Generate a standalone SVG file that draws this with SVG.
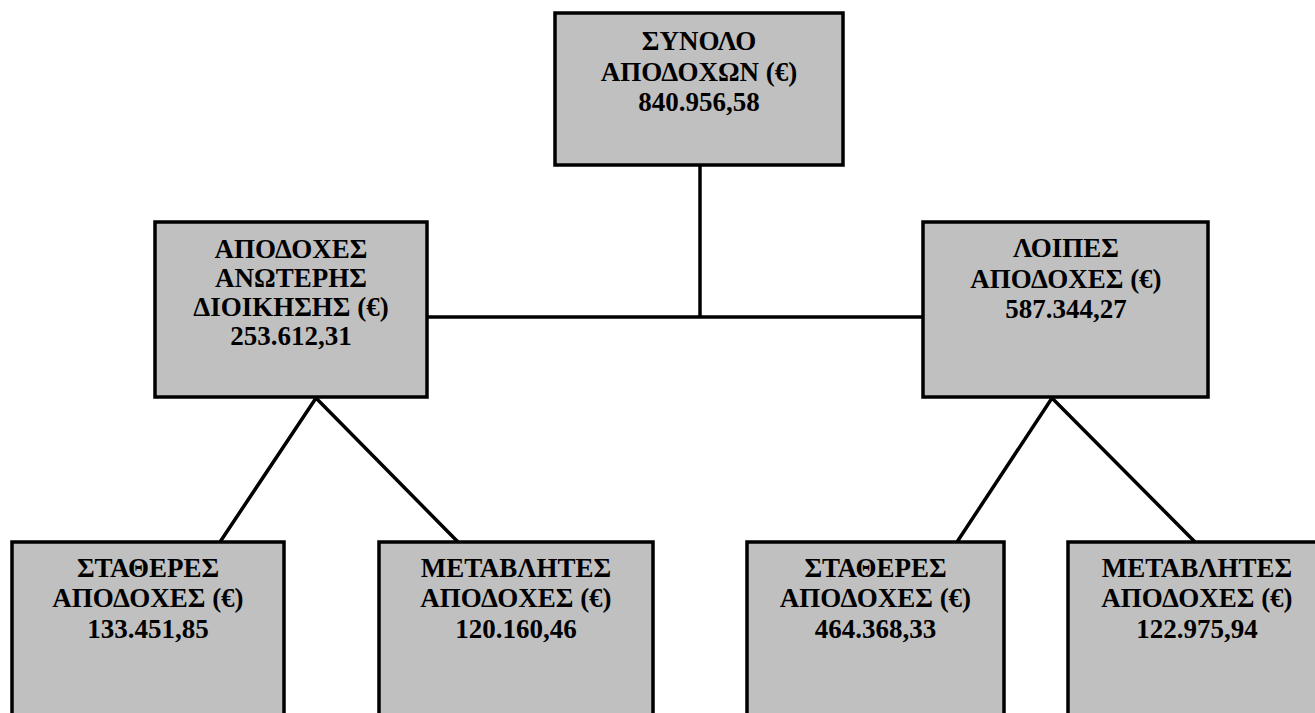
<svg xmlns="http://www.w3.org/2000/svg" width="1315" height="713" viewBox="0 0 1315 713">
<style>
.box{fill:#c0c0c0;stroke:#000;stroke-width:3.5}
.t{font-family:"Liberation Serif","Times New Roman",serif;font-weight:bold;font-size:27px;fill:#000;text-anchor:middle}
.c{stroke:#000;stroke-width:3.5;fill:none}
</style>
<rect width="1315" height="713" fill="#fff"/>
<g id="connectors">
<line class="c" x1="700" y1="165" x2="700" y2="317"/>
<line class="c" x1="427" y1="317" x2="923" y2="317"/>
<polyline class="c" points="220,542 316,398 458,542"/>
<polyline class="c" points="957,542 1052,398 1195,542"/>
</g>
<g id="n-total">
<rect class="box" x="555" y="13" width="288" height="152"/>
<text class="t" x="699" y="50">ΣΥΝΟΛΟ</text>
<text class="t" x="699" y="81">ΑΠΟΔΟΧΩΝ (€)</text>
<text class="t" x="699" y="111">840.956,58</text>
</g>
<g id="n-mgmt">
<rect class="box" x="155" y="222" width="272" height="175"/>
<text class="t" x="291" y="258">ΑΠΟΔΟΧΕΣ</text>
<text class="t" x="291" y="287">ΑΝΩΤΕΡΗΣ</text>
<text class="t" x="291" y="316">ΔΙΟΙΚΗΣΗΣ (€)</text>
<text class="t" x="291" y="345">253.612,31</text>
</g>
<g id="n-other">
<rect class="box" x="923" y="222" width="285" height="175"/>
<text class="t" x="1066" y="257">ΛΟΙΠΕΣ</text>
<text class="t" x="1066" y="288">ΑΠΟΔΟΧΕΣ (€)</text>
<text class="t" x="1066" y="318">587.344,27</text>
</g>
<g id="n-mgmt-fixed">
<rect class="box" x="12" y="542" width="272" height="190"/>
<text class="t" x="148" y="577">ΣΤΑΘΕΡΕΣ</text>
<text class="t" x="148" y="607">ΑΠΟΔΟΧΕΣ (€)</text>
<text class="t" x="148" y="638">133.451,85</text>
</g>
<g id="n-mgmt-var">
<rect class="box" x="379" y="542" width="274" height="190"/>
<text class="t" x="516" y="577">ΜΕΤΑΒΛΗΤΕΣ</text>
<text class="t" x="516" y="607">ΑΠΟΔΟΧΕΣ (€)</text>
<text class="t" x="516" y="638">120.160,46</text>
</g>
<g id="n-other-fixed">
<rect class="box" x="747" y="542" width="257" height="190"/>
<text class="t" x="875.5" y="577">ΣΤΑΘΕΡΕΣ</text>
<text class="t" x="875.5" y="607">ΑΠΟΔΟΧΕΣ (€)</text>
<text class="t" x="875.5" y="638">464.368,33</text>
</g>
<g id="n-other-var">
<rect class="box" x="1068" y="542" width="258" height="190"/>
<text class="t" x="1197" y="577">ΜΕΤΑΒΛΗΤΕΣ</text>
<text class="t" x="1197" y="607">ΑΠΟΔΟΧΕΣ (€)</text>
<text class="t" x="1197" y="638">122.975,94</text>
</g>
</svg>
